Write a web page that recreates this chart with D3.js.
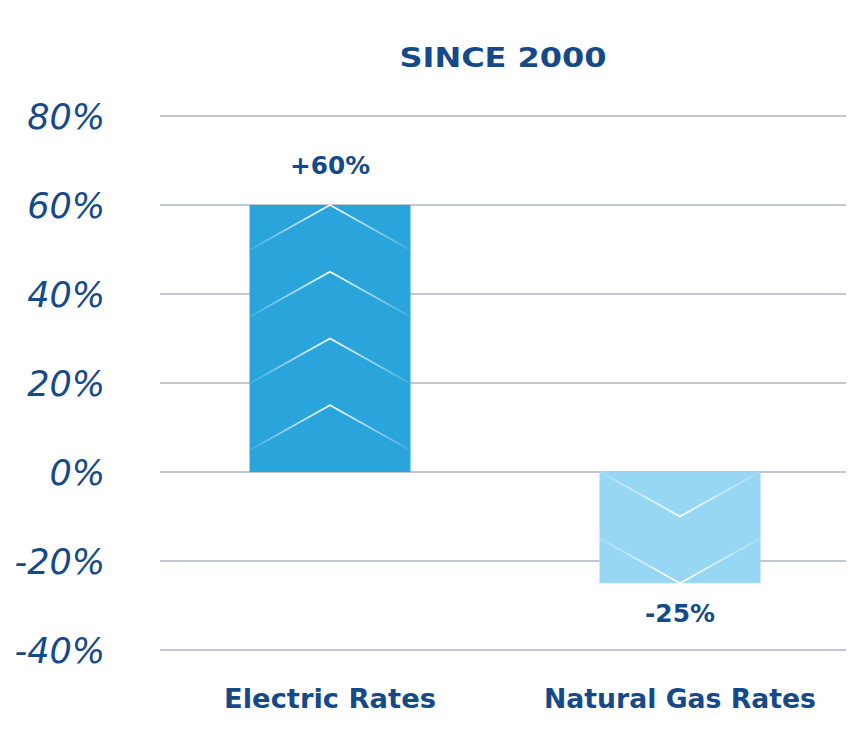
<!DOCTYPE html>
<html>
<head>
<meta charset="utf-8">
<script src="https://cdn.jsdelivr.net/npm/d3@7"></script>
<style>
  html, body { margin: 0; padding: 0; background: #fff; }
  svg { display: block; }
</style>
</head>
<body>
<svg id="chart" width="856" height="738"></svg>
<script>
// ---- data ----
const categories = ["Electric Rates", "Natural Gas Rates"];
const values = [60, -25];
const valueLabels = ["+60%", "-25%"];
const yTicks = [-40, -20, 0, 20, 40, 60, 80];
// chevron apex values (in %) drawn inside each bar
const chevrons = [[60, 45, 30, 15], [-10, -25]];
const chevronDrop = 10; // arm length in % units
const title = "SINCE 2000";

// ---- setup ----
const svg = d3.select("#chart");
const navy = "#154a8a";
const barColors = ["#29a5dc", "#98d7f3"];

const x = d3.scaleBand().domain(categories).range([155, 855])
  .paddingInner(0.54).paddingOuter(0.27);
const y = d3.scaleLinear().domain([-40, 80]).range([650, 116]);

// gradient for the faded chevron lines
const defs = svg.append("defs");
const grad = defs.append("linearGradient").attr("id", "fade")
  .attr("x1", "0%").attr("x2", "100%").attr("y1", "0%").attr("y2", "0%");
grad.append("stop").attr("offset", "0%").attr("stop-color", "#fff").attr("stop-opacity", 0.1);
grad.append("stop").attr("offset", "50%").attr("stop-color", "#fff").attr("stop-opacity", 1);
grad.append("stop").attr("offset", "100%").attr("stop-color", "#fff").attr("stop-opacity", 0.1);

// gridlines (behind bars)
svg.append("g").selectAll("line").data(yTicks).enter().append("line")
  .attr("x1", 160).attr("x2", 846)
  .attr("y1", d => y(d)).attr("y2", d => y(d))
  .attr("stroke", "#c3c6d4").attr("stroke-width", 2);

// y labels
svg.append("g").selectAll("text").data(yTicks).enter().append("text")
  .attr("x", 105).attr("y", d => y(d))
  .attr("dy", "0.38em")
  .attr("text-anchor", "end")
  .attr("font-family", "DejaVu Sans, sans-serif")
  .attr("font-style", "italic")
  .attr("font-size", 35)
  .attr("fill", navy)
  .text(d => d + "%");

// bars
svg.append("g").selectAll("rect").data(values).enter().append("rect")
  .attr("x", (d, i) => x(categories[i]))
  .attr("y", d => y(Math.max(0, d)))
  .attr("width", x.bandwidth())
  .attr("height", d => Math.abs(y(d) - y(0)))
  .attr("fill", (d, i) => barColors[i]);

// chevrons
chevrons.forEach((list, i) => {
  const x0 = x(categories[i]) + 1, x1 = x(categories[i]) + x.bandwidth() - 1;
  const xm = x(categories[i]) + x.bandwidth() / 2;
  const up = values[i] > 0;
  svg.append("g").selectAll("path").data(list).enter().append("path")
    .attr("d", d => {
      const end = up ? d - chevronDrop : d + chevronDrop;
      return d3.line()([[x0, y(end)], [xm, y(d)], [x1, y(end)]]);
    })
    .attr("fill", "none")
    .attr("stroke", "url(#fade)")
    .attr("stroke-width", 1.6);
});

// value labels
svg.append("g").selectAll("text").data(values).enter().append("text")
  .attr("x", (d, i) => x(categories[i]) + x.bandwidth() / 2)
  .attr("y", d => d > 0 ? y(d) - 31 : y(d) + 39)
  .attr("text-anchor", "middle")
  .attr("font-family", "DejaVu Sans, sans-serif")
  .attr("font-weight", "bold")
  .attr("font-size", 24)
  .attr("fill", navy)
  .attr("textLength", (d, i) => i === 0 ? 80 : 70)
  .attr("lengthAdjust", "spacingAndGlyphs")
  .text((d, i) => valueLabels[i]);

// category labels
svg.append("g").selectAll("text").data(categories).enter().append("text")
  .attr("x", d => x(d) + x.bandwidth() / 2)
  .attr("y", 708)
  .attr("text-anchor", "middle")
  .attr("font-family", "DejaVu Sans, sans-serif")
  .attr("font-weight", "bold")
  .attr("font-size", 27)
  .attr("fill", navy)
  .attr("textLength", (d, i) => i === 0 ? 212 : 272)
  .attr("lengthAdjust", "spacingAndGlyphs")
  .text(d => d);

// title
svg.append("text")
  .attr("x", 503).attr("y", 67)
  .attr("text-anchor", "middle")
  .attr("font-family", "DejaVu Sans, sans-serif")
  .attr("font-weight", "bold")
  .attr("font-size", 26)
  .attr("fill", navy)
  .attr("textLength", 207)
  .attr("lengthAdjust", "spacingAndGlyphs")
  .text(title);
</script>
</body>
</html>
